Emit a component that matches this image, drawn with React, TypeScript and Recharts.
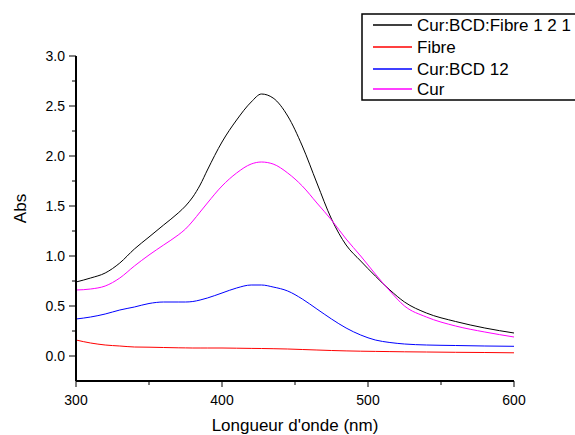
import React from 'react';
import { Label, Line, LineChart, XAxis, YAxis } from 'recharts';

const wavelengths = [300, 310, 320, 330, 340, 350, 360, 370, 375, 380, 385, 390, 400, 410, 420, 427, 435, 445, 455, 465, 475, 485, 495, 505, 515, 525, 540, 560, 580, 600];

const curBcdFibre = [0.74, 0.78, 0.83, 0.93, 1.07, 1.19, 1.31, 1.43, 1.5, 1.59, 1.71, 1.86, 2.14, 2.36, 2.54, 2.62, 2.58, 2.4, 2.1, 1.73, 1.37, 1.11, 0.95, 0.8, 0.66, 0.54, 0.43, 0.345, 0.28, 0.23];
const fibre = [0.16, 0.13, 0.11, 0.1, 0.09, 0.088, 0.085, 0.082, 0.081, 0.08, 0.08, 0.08, 0.08, 0.078, 0.076, 0.075, 0.073, 0.07, 0.065, 0.06, 0.055, 0.051, 0.048, 0.046, 0.044, 0.042, 0.04, 0.037, 0.035, 0.032];
const curBcd = [0.37, 0.39, 0.42, 0.46, 0.49, 0.525, 0.54, 0.54, 0.54, 0.545, 0.56, 0.58, 0.63, 0.68, 0.71, 0.71, 0.69, 0.65, 0.57, 0.47, 0.37, 0.28, 0.21, 0.16, 0.135, 0.12, 0.11, 0.105, 0.1, 0.097];
const cur = [0.66, 0.67, 0.7, 0.78, 0.9, 1.01, 1.11, 1.21, 1.27, 1.35, 1.44, 1.53, 1.7, 1.83, 1.92, 1.94, 1.92, 1.83, 1.7, 1.53, 1.36, 1.17, 1.0, 0.82, 0.65, 0.5, 0.39, 0.3, 0.24, 0.19];

const xTicks = [300, 350, 400, 450, 500, 550, 600];
const yTicks = [-0.25, 0, 0.25, 0.5, 0.75, 1, 1.25, 1.5, 1.75, 2, 2.25, 2.5, 2.75, 3];

const series = [
  { key: 'a', name: 'Cur:BCD:Fibre 1 2 1', color: '#000000' },
  { key: 'b', name: 'Fibre', color: '#ff0000' },
  { key: 'c', name: 'Cur:BCD 12', color: '#0000ff' },
  { key: 'd', name: 'Cur', color: '#ff00ff' },
];

const data = wavelengths.map((w, i) => ({
  w,
  a: curBcdFibre[i],
  b: fibre[i],
  c: curBcd[i],
  d: cur[i],
}));

const FONT = '"Liberation Sans", Arial, sans-serif';

const XTick = (props: any) => {
  const { x, y, payload } = props;
  const major = payload.value % 100 === 0;
  return (
    <g>
      <line x1={x} x2={x} y1={y} y2={y + (major ? 6 : 4)} stroke="#000" strokeWidth={1} />
      {major && (
        <text x={x} y={y + 24} textAnchor="middle" fontSize={14} fontFamily={FONT} fill="#000">
          {payload.value}
        </text>
      )}
    </g>
  );
};

const YTick = (props: any) => {
  const { x, y, payload } = props;
  const v = payload.value;
  if (v < 0) return <g />;
  const major = Math.abs((v * 2) % 1) < 1e-6;
  return (
    <g>
      <line x1={x} x2={x - (major ? 7 : 4)} y1={y} y2={y} stroke="#000" strokeWidth={1} />
      {major && (
        <text x={x - 11} y={y + 5} textAnchor="end" fontSize={14} fontFamily={FONT} fill="#000">
          {v.toFixed(1)}
        </text>
      )}
    </g>
  );
};

const rowTops = [12, 34, 56, 76];

const LegendBox = () => (
  <svg width={240} height={88} style={{ position: 'absolute', left: 361, top: 13 }}>
    <rect x={1} y={1} width={236} height={86} fill="#fff" stroke="#000" strokeWidth={1.5} />
    {series.map((s, i) => (
      <g key={s.key}>
        <line x1={12} x2={51} y1={rowTops[i]} y2={rowTops[i]} stroke={s.color} strokeWidth={1.5} />
        <text x={56} y={rowTops[i] + 6} fontSize={17} fontFamily={FONT} fill="#000">
          {s.name}
        </text>
      </g>
    ))}
  </svg>
);

export default function App() {
  return (
    <div style={{ position: 'absolute', left: 0, top: 0, width: 575, height: 435, overflow: 'hidden', background: '#fff' }}>
      <LineChart width={575} height={435} data={data} margin={{ top: 56, right: 61, bottom: 0, left: 0 }}>
        <XAxis
          dataKey="w"
          type="number"
          domain={[300, 600]}
          ticks={xTicks}
          height={54}
          axisLine={{ stroke: '#000', strokeWidth: 2 }}
          tickLine={false}
          tickSize={0}
          tickMargin={0}
          tick={<XTick />}
          interval={0}
        >
          <Label
            content={(p: any) => (
              <text
                x={p.viewBox.x + p.viewBox.width / 2}
                y={p.viewBox.y + 50}
                textAnchor="middle"
                fontSize={17}
                fontFamily={FONT}
                fill="#000"
              >
                Longueur d'onde (nm)
              </text>
            )}
          />
        </XAxis>
        <YAxis
          type="number"
          domain={[-0.25, 3]}
          ticks={yTicks}
          width={76}
          axisLine={{ stroke: '#000', strokeWidth: 2 }}
          tickLine={false}
          tickSize={0}
          tickMargin={0}
          tick={<YTick />}
          interval={0}
          allowDataOverflow
        >
          <Label
            content={(p: any) => {
              const cx = 20;
              const cy = p.viewBox.y + p.viewBox.height / 2 - 10;
              return (
                <text
                  x={cx}
                  y={cy}
                  transform={`rotate(-90 ${cx} ${cy})`}
                  textAnchor="middle"
                  dominantBaseline="central"
                  fontSize={17}
                  fontFamily={FONT}
                  fill="#000"
                >
                  Abs
                </text>
              );
            }}
          />
        </YAxis>
        {series.map((s) => (
          <Line
            key={s.key}
            dataKey={s.key}
            name={s.name}
            type="monotone"
            stroke={s.color}
            strokeWidth={1}
            dot={false}
            isAnimationActive={false}
          />
        ))}
      </LineChart>
      <LegendBox />
    </div>
  );
}
